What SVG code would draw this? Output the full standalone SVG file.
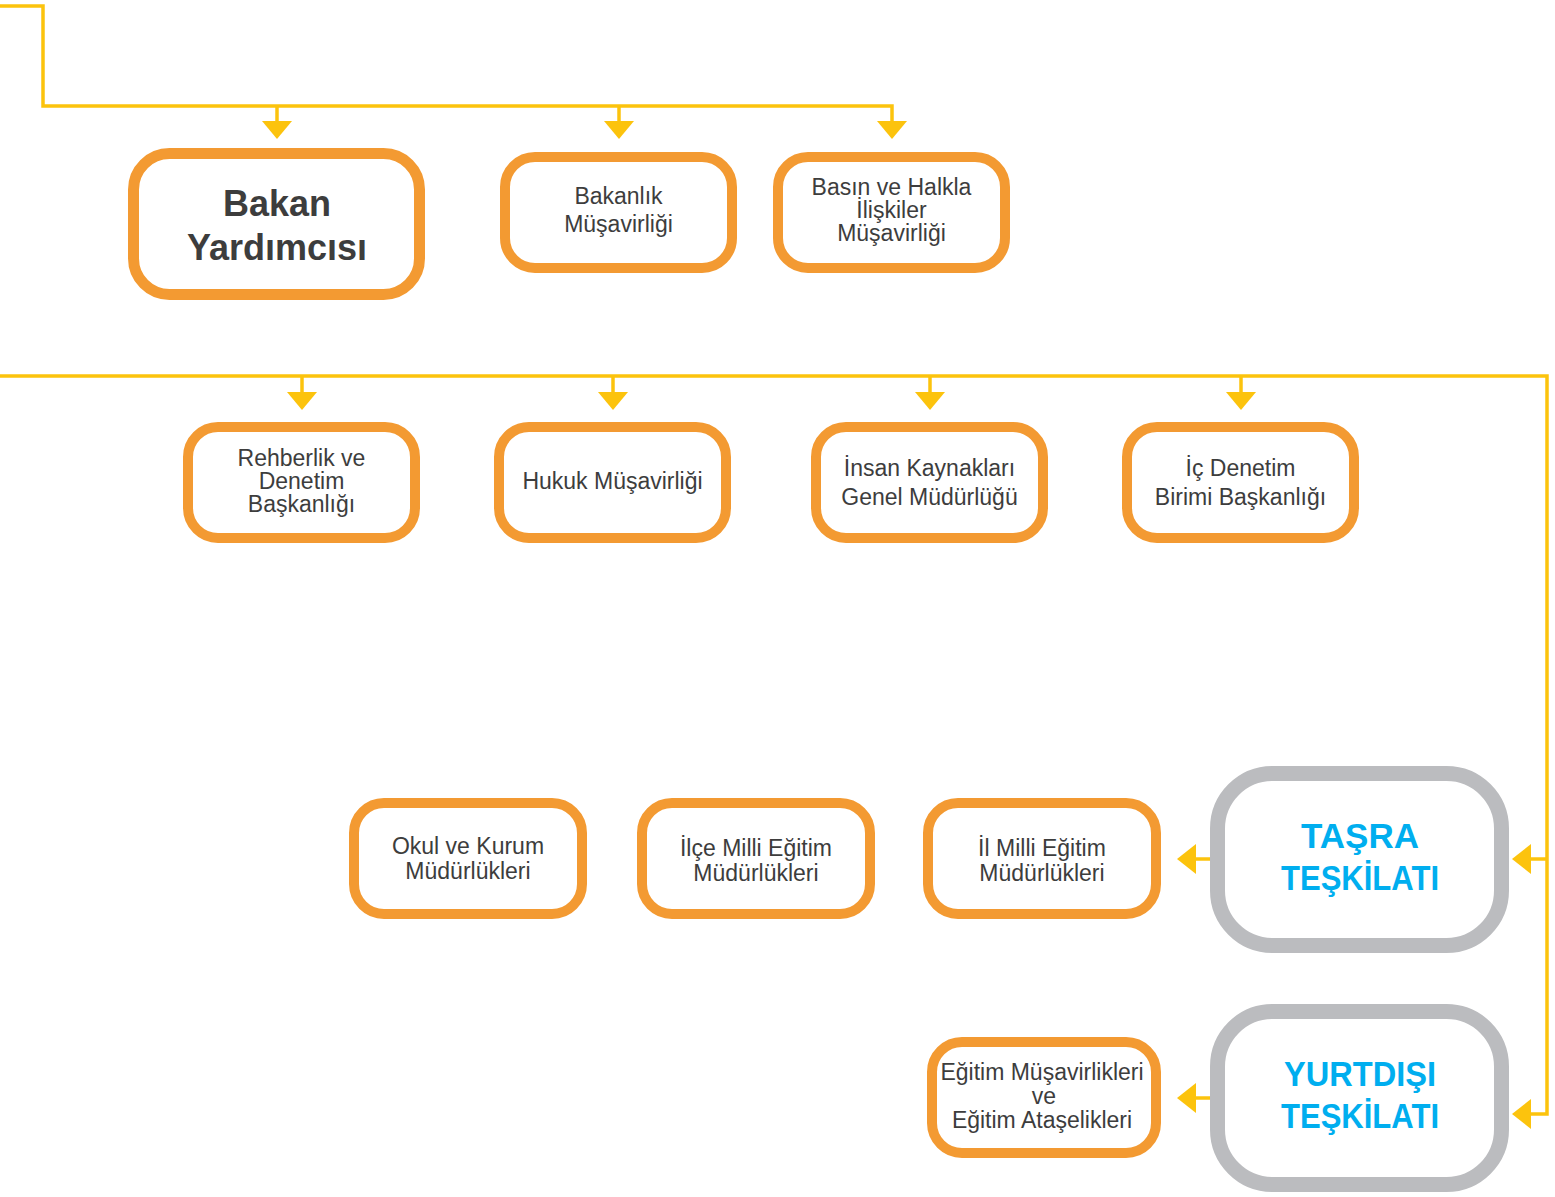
<svg xmlns="http://www.w3.org/2000/svg" width="1555" height="1197" viewBox="0 0 1555 1197">
<style>
.box{fill:#fff;stroke:#f39a32;stroke-width:10}
.main{fill:#fff;stroke:#f39a32;stroke-width:11}
.gray{fill:#fff;stroke:#bbbcbf;stroke-width:15}
.t{font-family:"Liberation Sans",Arial,sans-serif;font-size:23px;fill:#3d3d3d;text-anchor:middle}
.tb{font-family:"Liberation Sans",Arial,sans-serif;font-size:36px;font-weight:bold;fill:#3d3d3d;text-anchor:middle}
.tc{font-family:"Liberation Sans",Arial,sans-serif;font-size:35px;font-weight:bold;fill:#00aeef;text-anchor:middle}
.ln{fill:none;stroke:#fcc30d;stroke-width:3.5}
.ah{fill:#fcc30d}
</style>
<g id="connectors">
<polyline class="ln" points="0,6 43,6 43,106 892,106 892,123"/>
<line class="ln" x1="277" y1="106" x2="277" y2="123"/>
<line class="ln" x1="619" y1="106" x2="619" y2="123"/>
<polygon class="ah" points="262,121 292,121 277,139"/>
<polygon class="ah" points="604,121 634,121 619,139"/>
<polygon class="ah" points="877,121 907,121 892,139"/>
<polyline class="ln" points="0,376 1547,376 1547,1114 1530,1114"/>
<line class="ln" x1="1547" y1="859" x2="1530" y2="859"/>
<line class="ln" x1="302" y1="376" x2="302" y2="394"/>
<line class="ln" x1="613" y1="376" x2="613" y2="394"/>
<line class="ln" x1="930" y1="376" x2="930" y2="394"/>
<line class="ln" x1="1241" y1="376" x2="1241" y2="394"/>
<polygon class="ah" points="287,392 317,392 302,410"/>
<polygon class="ah" points="598,392 628,392 613,410"/>
<polygon class="ah" points="915,392 945,392 930,410"/>
<polygon class="ah" points="1226,392 1256,392 1241,410"/>
<polygon class="ah" points="1512,859 1531,844 1531,874"/>
<polygon class="ah" points="1512,1114 1531,1099 1531,1129"/>
<line class="ln" x1="1210" y1="859" x2="1194" y2="859"/>
<polygon class="ah" points="1177,859 1196,844 1196,874"/>
<line class="ln" x1="1210" y1="1098" x2="1194" y2="1098"/>
<polygon class="ah" points="1177,1098 1196,1083 1196,1113"/>
</g>
<g id="bakan-yardimcisi">
<rect class="main" x="133.5" y="153.5" width="286" height="141" rx="36"/>
<text class="tb" x="277" y="216">Bakan</text>
<text class="tb" x="277" y="260">Yardımcısı</text>
</g>
<g id="bakanlik-musavirligi">
<rect class="box" x="505" y="157" width="227" height="111" rx="30"/>
<text class="t" x="618.5" y="204">Bakanlık</text>
<text class="t" x="618.5" y="232">Müşavirliği</text>
</g>
<g id="basin">
<rect class="box" x="778" y="157" width="227" height="111" rx="30"/>
<text class="t" x="891.5" y="195">Basın ve Halkla</text>
<text class="t" x="891.5" y="218">İlişkiler</text>
<text class="t" x="891.5" y="241">Müşavirliği</text>
</g>
<g id="rehberlik">
<rect class="box" x="188" y="427" width="227" height="111" rx="30"/>
<text class="t" x="301.5" y="466">Rehberlik ve</text>
<text class="t" x="301.5" y="489">Denetim</text>
<text class="t" x="301.5" y="512">Başkanlığı</text>
</g>
<g id="hukuk">
<rect class="box" x="499" y="427" width="227" height="111" rx="30"/>
<text class="t" x="612.5" y="489">Hukuk Müşavirliği</text>
</g>
<g id="insan-kaynaklari">
<rect class="box" x="816" y="427" width="227" height="111" rx="30"/>
<text class="t" x="929.5" y="476">İnsan Kaynakları</text>
<text class="t" x="929.5" y="505">Genel Müdürlüğü</text>
</g>
<g id="ic-denetim">
<rect class="box" x="1127" y="427" width="227" height="111" rx="30"/>
<text class="t" x="1240.5" y="476">İç Denetim</text>
<text class="t" x="1240.5" y="505">Birimi Başkanlığı</text>
</g>
<g id="okul">
<rect class="box" x="354" y="803" width="228" height="111" rx="30"/>
<text class="t" x="468" y="854">Okul ve Kurum</text>
<text class="t" x="468" y="879">Müdürlükleri</text>
</g>
<g id="ilce">
<rect class="box" x="642" y="803" width="228" height="111" rx="30"/>
<text class="t" x="756" y="856">İlçe Milli Eğitim</text>
<text class="t" x="756" y="881">Müdürlükleri</text>
</g>
<g id="il">
<rect class="box" x="928" y="803" width="228" height="111" rx="30"/>
<text class="t" x="1042" y="856">İl Milli Eğitim</text>
<text class="t" x="1042" y="881">Müdürlükleri</text>
</g>
<g id="tasra">
<rect class="gray" x="1217.5" y="773.5" width="284" height="172" rx="55"/>
<text class="tc" x="1360" y="848">TAŞRA</text>
<text class="tc" x="1360" y="890" textLength="158" lengthAdjust="spacingAndGlyphs">TEŞKİLATI</text>
</g>
<g id="yurtdisi">
<rect class="gray" x="1217.5" y="1011.5" width="284" height="173" rx="55"/>
<text class="tc" x="1360" y="1086" textLength="152" lengthAdjust="spacingAndGlyphs">YURTDIŞI</text>
<text class="tc" x="1360" y="1128" textLength="158" lengthAdjust="spacingAndGlyphs">TEŞKİLATI</text>
</g>
<g id="egitim-musavirlikleri">
<rect class="box" x="932" y="1042" width="224" height="111" rx="30"/>
<text class="t" x="1042" y="1080">Eğitim Müşavirlikleri</text>
<text class="t" x="1044" y="1104">ve</text>
<text class="t" x="1042" y="1128">Eğitim Ataşelikleri</text>
</g>
</svg>
